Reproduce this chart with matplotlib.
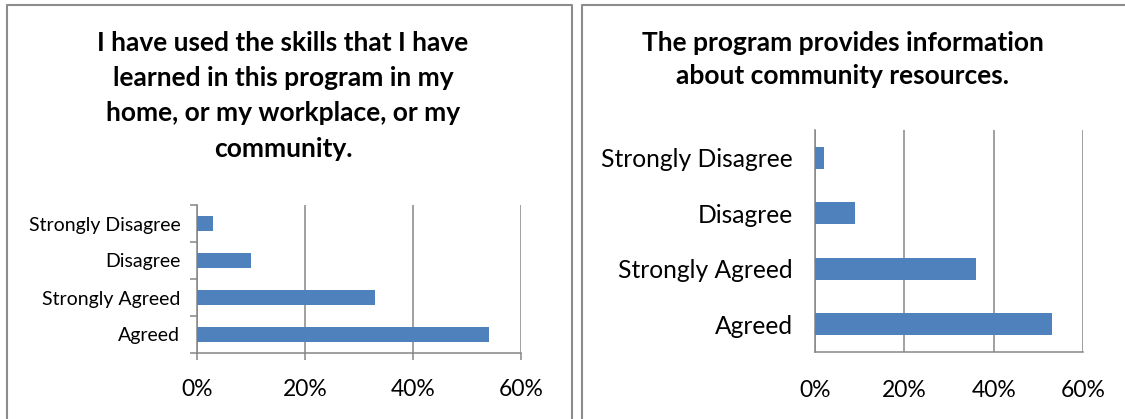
import matplotlib
matplotlib.use('Agg')
import matplotlib.pyplot as plt
from matplotlib.lines import Line2D
from matplotlib.ticker import FixedLocator

plt.rcParams['font.family'] = ['Lato', 'DejaVu Sans']

categories = ['Agreed', 'Strongly Agreed', 'Disagree', 'Strongly Disagree']
skills_used = [54, 33, 10, 3]
community_info = [53, 36, 9, 2]
x_ticks = [0, 20, 40, 60]
x_tick_labels = ['0%', '20%', '40%', '60%']

title_left = ('I have used the skills that I have\nlearned in this program in my\n'
              'home, or my workplace, or my\ncommunity.')
title_right = 'The program provides information\nabout community resources.'

bar_color = '#4F81BD'
grid_color = '#868686'
border_color = '#8c8c8c'

W, H = 1125, 419
fig = plt.figure(figsize=(W / 100, H / 100), dpi=100)


def px_axes(x0, y0, x1, y1):
    return fig.add_axes([x0 / W, 1 - y1 / H, (x1 - x0) / W, (y1 - y0) / H])


def draw_panel(ax, values, label_size, tick_size, ypad, xpad, ytick_len, xtick_len):
    ypos = range(len(categories))
    ax.barh(ypos, values, height=0.4, color=bar_color, zorder=3)
    ax.set_xlim(0, 60)
    ax.set_ylim(-0.5, len(categories) - 0.5)
    ax.set_xticks(x_ticks)
    ax.set_xticklabels(x_tick_labels, fontsize=tick_size)
    ax.set_yticks(list(ypos))
    ax.set_yticklabels(categories, fontsize=label_size)
    ax.tick_params(axis='y', length=0, pad=ypad)
    ax.tick_params(axis='x', length=xtick_len, pad=xpad, color=grid_color, width=1.1)
    ax.yaxis.set_minor_locator(FixedLocator([i - 0.5 for i in range(len(categories) + 1)]))
    ax.tick_params(axis='y', which='minor', length=ytick_len, color=grid_color, width=1.1)
    ax.grid(axis='x', color=grid_color, linewidth=1.1, zorder=0)
    for side in ['top', 'right']:
        ax.spines[side].set_visible(False)
    for side in ['left', 'bottom']:
        ax.spines[side].set_color(grid_color)
        ax.spines[side].set_linewidth(1.1)


ax_left = px_axes(197, 205, 521, 353)
draw_panel(ax_left, skills_used, 14, 16.5, 12, 14, 5, 5)
fig.text(283 / W, 1 - 31 / H, title_left, ha='center', va='top',
         fontsize=19, fontweight='bold', linespacing=1.56)

ax_right = px_axes(815, 130, 1083, 352)
draw_panel(ax_right, community_info, 17.7, 16.5, 16, 20, 0, 0)
fig.text(843 / W, 1 - 31 / H, title_right, ha='center', va='top',
         fontsize=19, fontweight='bold', linespacing=1.47)

# panel borders
for xs, ys in [([7, 7, 572, 572], [H + 5, 5, 5, H + 5]),
               ([582, 582, W + 5], [H + 5, 5, 5])]:
    fig.add_artist(Line2D([x / W for x in xs], [1 - y / H for y in ys],
                          color=border_color, linewidth=1.5))

fig.savefig('out.png', dpi=100)
